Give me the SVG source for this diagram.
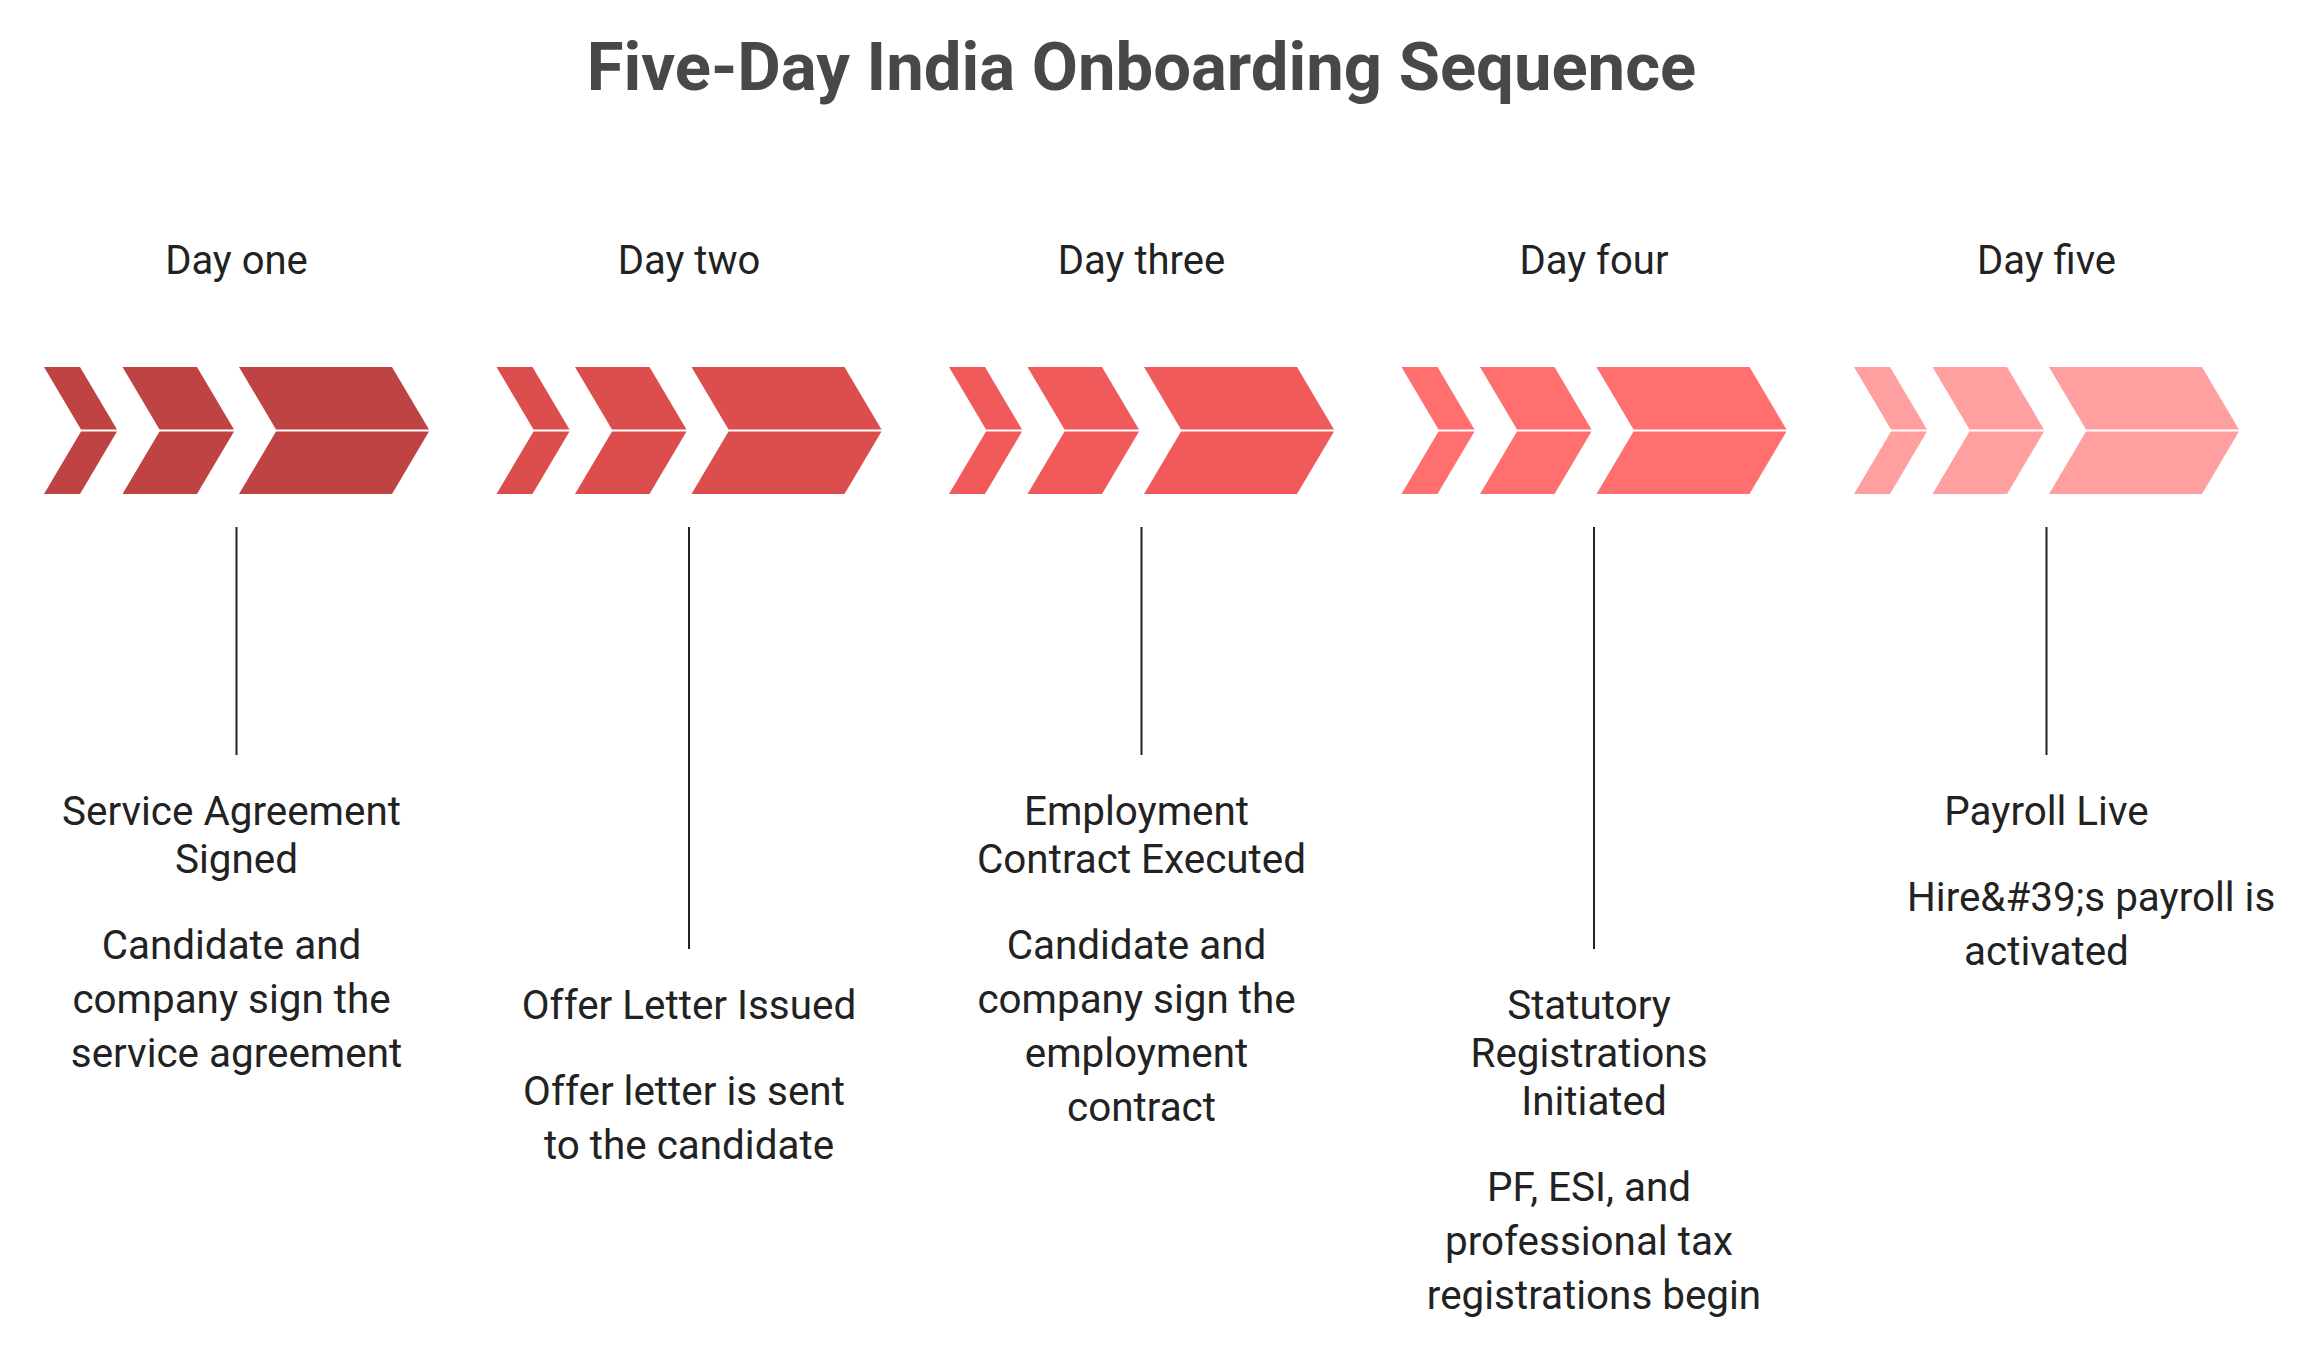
<svg xmlns="http://www.w3.org/2000/svg" xmlns:xlink="http://www.w3.org/1999/xlink" width="2313" height="1358" viewBox="0 0 2313 1358">
  <style>
    .title { font-family: Roboto, "Liberation Sans", sans-serif; font-weight: 700; font-size: 67px; fill: #484848; text-anchor: middle; }
    .day { font-family: Roboto, "Liberation Sans", sans-serif; font-size: 40px; fill: #222222; text-anchor: middle; }
    .head { font-family: Roboto, "Liberation Sans", sans-serif; font-size: 40.4px; fill: #222222; text-anchor: middle; }
    .desc { font-family: Roboto, "Liberation Sans", sans-serif; font-size: 40.4px; fill: #222222; text-anchor: middle; }
    .desc-start { text-anchor: start; }
    .conn { stroke: #222222; stroke-width: 2; fill: none; }
  </style>
  <defs>
    <g id="chev">
      <polygon points="0,367 36,367 73,429.5 37,429.5"/>
      <polygon points="37,431.5 73,431.5 36,494 0,494"/>
      <polygon points="78.5,367 153,367 190,429.5 115.5,429.5"/>
      <polygon points="115.5,431.5 190,431.5 153,494 78.5,494"/>
      <polygon points="195,367 348,367 385,429.5 232,429.5"/>
      <polygon points="232,431.5 385,431.5 348,494 195,494"/>
    </g>
  </defs>
  <rect x="0" y="0" width="2313" height="1358" fill="#ffffff"/>
  <text class="title" x="1141.5" y="90">Five-Day India Onboarding Sequence</text>

  <g id="connectors">
    <line class="conn" x1="236.5" y1="527" x2="236.5" y2="755"/>
    <line class="conn" x1="689" y1="527" x2="689" y2="949"/>
    <line class="conn" x1="1141.5" y1="527" x2="1141.5" y2="755"/>
    <line class="conn" x1="1594" y1="527" x2="1594" y2="949"/>
    <line class="conn" x1="2046.5" y1="527" x2="2046.5" y2="755"/>
  </g>

  <g id="day1">
    <text class="day" x="236.5" y="274">Day one</text>
    <use xlink:href="#chev" href="#chev" x="44" y="0" fill="#BF4342"/>
    <text class="head" x="231.5" y="825">Service Agreement</text>
    <text class="head" x="236.5" y="873">Signed</text>
    <text class="desc" x="231.5" y="959">Candidate and</text>
    <text class="desc" x="231.5" y="1013">company sign the</text>
    <text class="desc" x="236.5" y="1067">service agreement</text>
  </g>

  <g id="day2">
    <text class="day" x="689" y="274">Day two</text>
    <use xlink:href="#chev" href="#chev" x="496.5" y="0" fill="#DC4E4E"/>
    <text class="head" x="689" y="1019">Offer Letter Issued</text>
    <text class="desc" x="684" y="1105">Offer letter is sent</text>
    <text class="desc" x="689" y="1159">to the candidate</text>
  </g>

  <g id="day3">
    <text class="day" x="1141.5" y="274">Day three</text>
    <use xlink:href="#chev" href="#chev" x="949" y="0" fill="#F05A5A"/>
    <text class="head" x="1136.5" y="825">Employment</text>
    <text class="head" x="1141.5" y="873">Contract Executed</text>
    <text class="desc" x="1136.5" y="959">Candidate and</text>
    <text class="desc" x="1136.5" y="1013">company sign the</text>
    <text class="desc" x="1136.5" y="1067">employment</text>
    <text class="desc" x="1141.5" y="1121">contract</text>
  </g>

  <g id="day4">
    <text class="day" x="1594" y="274">Day four</text>
    <use xlink:href="#chev" href="#chev" x="1401.5" y="0" fill="#FF6F6F"/>
    <text class="head" x="1589" y="1019">Statutory</text>
    <text class="head" x="1589" y="1067">Registrations</text>
    <text class="head" x="1594" y="1115">Initiated</text>
    <text class="desc" x="1589" y="1201">PF, ESI, and</text>
    <text class="desc" x="1589" y="1255">professional tax</text>
    <text class="desc" x="1594" y="1309">registrations begin</text>
  </g>

  <g id="day5">
    <text class="day" x="2046.5" y="274">Day five</text>
    <use xlink:href="#chev" href="#chev" x="1854" y="0" fill="#FF9F9F"/>
    <text class="head" x="2046.5" y="825">Payroll Live</text>
    <text class="desc desc-start" x="1907" y="911">Hire&amp;#39;s payroll is</text>
    <text class="desc" x="2046.5" y="965">activated</text>
  </g>
</svg>
